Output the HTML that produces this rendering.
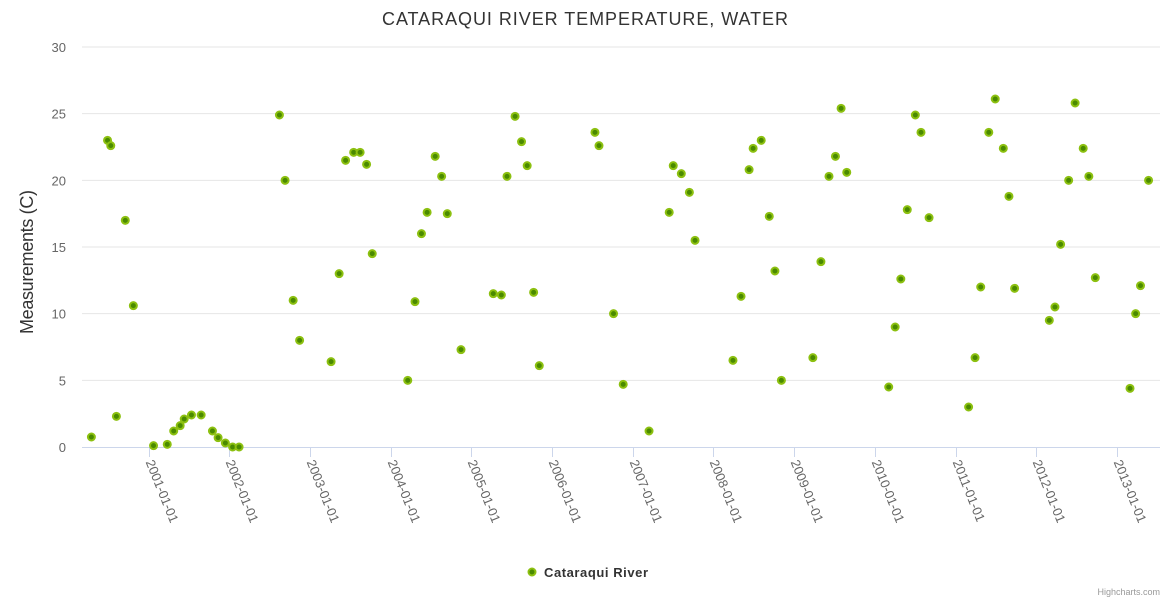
<!DOCTYPE html>
<html><head><meta charset="utf-8"><style>
body{margin:0;background:#fff;}
svg{display:block;font-family:"Liberation Sans",sans-serif;}
</style></head><body>
<svg id="chart" width="1170" height="600">
<rect width="1170" height="600" fill="#fff"/>
<text x="585" y="25" text-anchor="middle" font-size="18" fill="#333" textLength="406">CATARAQUI RIVER TEMPERATURE, WATER</text>
<text transform="translate(33,262) rotate(-90)" text-anchor="middle" font-size="18" fill="#333" textLength="144">Measurements (C)</text>
<g id="grid"></g><g id="xaxis"></g><g id="marks"></g>
<g>
<circle cx="532" cy="572" r="3.5" fill="#4a8a00" stroke="#8cc010" stroke-width="2"/>
<text x="544" y="577" font-size="13" font-weight="bold" fill="#333" textLength="104">Cataraqui River</text>
</g>
<text x="1160" y="595" text-anchor="end" font-size="9" fill="#999">Highcharts.com</text>
</svg>
<script>
const yTicks=[0,5,10,15,20,25,30];
const xTickYears=[2001,2002,2003,2004,2005,2006,2007,2008,2009,2010,2011,2012,2013];
const dates=[2000.28,2000.48,2000.52,2000.59,2000.70,2000.80,2001.05,2001.22,2001.30,2001.38,2001.43,2001.52,2001.64,2001.78,2001.85,2001.94,2002.03,2002.11,2002.61,2002.68,2002.78,2002.86,2003.25,2003.35,2003.43,2003.53,2003.61,2003.69,2003.76,2004.20,2004.29,2004.37,2004.44,2004.54,2004.62,2004.69,2004.86,2005.26,2005.36,2005.43,2005.53,2005.61,2005.68,2005.76,2005.83,2006.52,2006.57,2006.75,2006.87,2007.19,2007.44,2007.49,2007.59,2007.69,2007.76,2008.23,2008.33,2008.43,2008.48,2008.58,2008.68,2008.75,2008.83,2009.22,2009.32,2009.42,2009.50,2009.57,2009.64,2010.16,2010.24,2010.31,2010.39,2010.49,2010.56,2010.66,2011.15,2011.23,2011.30,2011.40,2011.48,2011.58,2011.65,2011.72,2012.15,2012.22,2012.29,2012.39,2012.47,2012.57,2012.64,2012.72,2013.15,2013.22,2013.28,2013.38];
const temps=[0.75,23.0,22.6,2.3,17.0,10.6,0.1,0.2,1.2,1.6,2.1,2.4,2.4,1.2,0.7,0.3,0.0,0.0,24.9,20.0,11.0,8.0,6.4,13.0,21.5,22.1,22.1,21.2,14.5,5.0,10.9,16.0,17.6,21.8,20.3,17.5,7.3,11.5,11.4,20.3,24.8,22.9,21.1,11.6,6.1,23.6,22.6,10.0,4.7,1.2,17.6,21.1,20.5,19.1,15.5,6.5,11.3,20.8,22.4,23.0,17.3,13.2,5.0,6.7,13.9,20.3,21.8,25.4,20.6,4.5,9.0,12.6,17.8,24.9,23.6,17.2,3.0,6.7,12.0,23.6,26.1,22.4,18.8,11.9,9.5,10.5,15.2,20.0,25.8,22.4,20.3,12.7,4.4,10.0,12.1,20.0];
const NS='http://www.w3.org/2000/svg';
const X=y=>149.5+(y-2001)*80.7;
const Y=v=>447-v*(400/30);
function mk(t,a,p){const e=document.createElementNS(NS,t);for(const k in a)e.setAttribute(k,a[k]);p.appendChild(e);return e;}
const grid=document.getElementById('grid'),xa=document.getElementById('xaxis'),marks=document.getElementById('marks');
yTicks.forEach(v=>{
 if(v>0){const l=mk('line',{x1:82,x2:1160,y1:Y(v),y2:Y(v),stroke:'#e6e6e6'},grid);
 
 }
 const t=mk('text',{x:66,y:Y(v)+5,'text-anchor':'end','font-size':13,fill:'#666'},grid);
 t.textContent=v;
 
 
});
const ax=mk('line',{x1:82,x2:1160,y1:447.5,y2:447.5,stroke:'#ccd6eb'},xa);


xTickYears.forEach(yr=>{
 const x=Math.round(X(yr)-1)+0.5;
 const tk=mk('line',{x1:x,x2:x,y1:447,y2:457,stroke:'#ccd6eb'},xa);
 
 
 const t=mk('text',{transform:`translate(${x-4},${462}) rotate(68)`,'font-size':13,fill:'#666'},xa);
 t.textContent=yr+'-01-01';
 
 
});
dates.forEach((d,i)=>{
 const c=mk('circle',{cx:X(d),cy:Y(temps[i]),r:3.5,fill:'#4a8a00',stroke:'#8cc010','stroke-width':2},marks);
 
 
});
</script>
</body></html>
